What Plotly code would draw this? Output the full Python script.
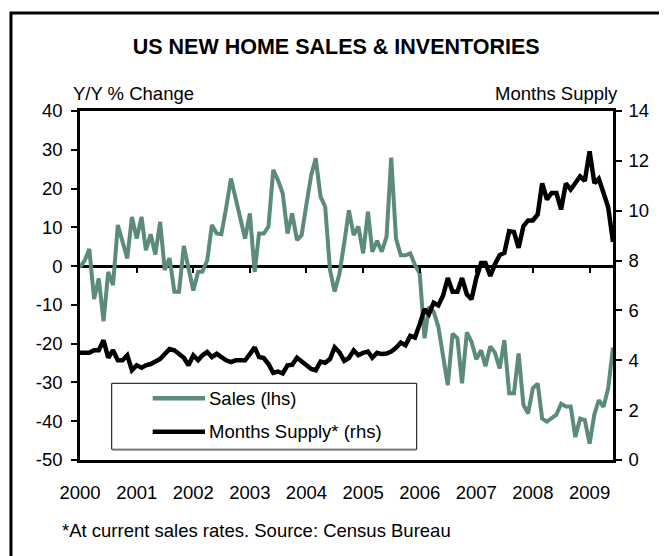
"""
US new home sales (y/y %) vs months supply, 2000-2009
"""
import plotly.graph_objects as go
import pandas as pd

GREEN = '#5d8b79'
BLACK = '#000000'
FONT = 'Arial, Liberation Sans, sans-serif'

# monthly, Jan 2000 - Jun 2009
months = pd.date_range('2000-01-01', periods=114, freq='MS')

sales_yoy = [
    -0.3, 1.5, 4.4, -8.5, -3.2, -14.2, -1.5, -4.9, 10.6, 6.0, 2.0, 12.7,
    7.1, 12.7, 4.1, 8.2, 3.0, 11.4, -1.0, 2.1, -6.6, -6.6, 5.2, -0.5,
    -6.3, -1.5, -1.4, 1.5, 10.6, 8.4, 8.2, 15.0, 22.6, 17.5, 12.0, 7.1,
    13.6, -1.5, 8.4, 8.4, 10.2, 24.8, 22.2, 18.8, 8.4, 13.6, 6.7, 8.0,
    16.0, 23.5, 27.8, 17.9, 15.3, -1.0, -6.6, -2.0, 6.0, 14.4, 8.0, 10.2,
    3.3, 14.0, 3.7, 6.5, 3.7, 7.6, 28.0, 7.1, 2.8, 2.8, 3.3, 0.3,
    -1.9, -18.6, -10.5, -11.8, -15.6, -23.0, -30.7, -17.4, -18.6, -30.2, -17.1, -19.5,
    -24.0, -21.7, -25.8, -20.7, -22.3, -26.4, -19.1, -32.8, -32.8, -22.5, -35.8, -38.0,
    -31.5, -30.3, -39.3, -40.1, -39.3, -38.3, -35.5, -36.2, -36.2, -44.1, -39.3, -39.7,
    -45.8, -38.2, -34.6, -36.3, -31.5, -21.0,
]

months_supply = [
    4.3, 4.3, 4.3, 4.4, 4.4, 4.8, 4.1, 4.4, 4.0, 4.0, 4.2, 3.6,
    3.8, 3.7, 3.8, 3.85, 3.95, 4.05, 4.25, 4.45, 4.4, 4.25, 4.1, 3.8,
    4.2, 4.0, 4.2, 4.33, 4.13, 4.26, 4.13, 4.0, 3.93, 4.0, 4.0, 4.0,
    4.25, 4.52, 4.13, 4.09, 3.85, 3.5, 3.55, 3.47, 3.8, 3.82, 4.1, 3.95,
    3.85, 3.65, 3.6, 3.95, 3.9, 4.05, 4.52, 4.32, 3.98, 4.09, 4.4, 4.2,
    4.3, 4.35, 4.1, 4.3, 4.25, 4.27, 4.35, 4.5, 4.71, 4.6, 4.98, 4.91,
    5.45, 6.05, 5.85, 6.31, 6.2, 6.6, 7.3, 6.75, 6.75, 7.3, 6.65, 6.45,
    7.3, 7.9, 7.9, 7.38, 7.85, 8.22, 8.31, 9.18, 9.15, 8.51, 9.38, 9.61,
    9.61, 9.85, 11.1, 10.45, 10.71, 10.71, 10.05, 11.1, 10.85, 11.1, 11.38, 11.2,
    12.38, 11.1, 11.28, 10.71, 10.14, 8.75,
]

year_ticks = pd.date_range('2000-01-01', '2009-01-01', freq='YS')
year_labels = [str(d.year) for d in year_ticks]

lhs_ticks = [-50, -40, -30, -20, -10, 0, 10, 20, 30, 40]
lhs_labels = [str(v) for v in lhs_ticks]  # plain hyphen, not unicode minus

fig = go.Figure()

fig.add_trace(go.Scatter(
    x=months, y=sales_yoy, mode='lines', name='Sales (lhs)',
    line=dict(color=GREEN, width=4), showlegend=False
))
fig.add_trace(go.Scatter(
    x=months, y=months_supply, mode='lines', name='Months Supply* (rhs)',
    yaxis='y2', line=dict(color=BLACK, width=4.5), showlegend=False
))
# carrier for the tick axis sitting on the zero line
fig.add_trace(go.Scatter(x=[], y=[], xaxis='x2', showlegend=False, hoverinfo='skip'))

axis_font = dict(family=FONT, size=18.5, color=BLACK)

# the page body adds an 8px margin, so the figure is 8px smaller than the window
fig.update_layout(
    width=659, height=548,
    margin=dict(l=72, r=54, t=103, b=96),
    paper_bgcolor='white', plot_bgcolor='white',
    font=axis_font,
    title=dict(
        text='<b>US NEW HOME SALES & INVENTORIES</b>',
        font=dict(family=FONT, size=21.5, color=BLACK),
        x=0.498, xanchor='center', y=0.929, yanchor='middle'
    ),
    xaxis=dict(
        type='date', range=[months[0], months[-1]],
        tickvals=year_ticks, ticktext=year_labels,
        ticks='', showgrid=False, zeroline=False,
        showline=True, mirror=True, linecolor=BLACK, linewidth=2.5,
        ticklabelstandoff=14, tickfont=axis_font
    ),
    xaxis2=dict(
        type='date', overlaying='x', matches='x', anchor='free',
        position=50 / 90, tickvals=year_ticks[1:],
        ticks='outside', ticklen=6, tickwidth=2, tickcolor=BLACK,
        showticklabels=False, showgrid=False, showline=False, zeroline=False
    ),
    yaxis=dict(
        range=[-50, 40], tickvals=lhs_ticks, ticktext=lhs_labels,
        ticks='outside', ticklen=6, tickwidth=2,
        tickcolor=BLACK, showgrid=False, showline=True, linecolor=BLACK,
        linewidth=2.5, zeroline=True, zerolinecolor=BLACK, zerolinewidth=2.5,
        ticklabelstandoff=5, tickfont=axis_font
    ),
    yaxis2=dict(
        range=[0, 14], dtick=2, overlaying='y', side='right',
        ticks='outside', ticklen=6, tickwidth=2, tickcolor=BLACK,
        showgrid=False, showline=True, linecolor=BLACK, linewidth=2.5,
        zeroline=False, ticklabelstandoff=3, tickfont=axis_font
    ),
    hovermode='closest',
)

# outer frame (runs off the right and bottom edges)
fig.add_shape(type='rect', xref='paper', yref='paper',
              x0=-0.1295, x1=1.3, y0=-0.6, y1=1.281,
              line=dict(color=BLACK, width=3), fillcolor='rgba(0,0,0,0)')

# legend box
fig.add_shape(type='rect', xref='paper', yref='paper',
              x0=0.0595, x1=0.6317, y0=0.0307, y1=0.2198,
              line=dict(color=BLACK, width=1), fillcolor='white')
fig.add_shape(type='line', xref='paper', yref='paper',
              x0=0.0605, x1=0.6317, y0=0.0285, y1=0.0285,
              line=dict(color='#8c8c8c', width=1.5))
legend_rows = [('Sales (lhs)', GREEN, 0.1768), ('Months Supply* (rhs)', BLACK, 0.0811)]
for label, color, yy in legend_rows:
    fig.add_shape(type='line', xref='paper', yref='paper',
                  x0=0.1364, x1=0.2345, y0=yy, y1=yy,
                  line=dict(color=color, width=4.5))
    fig.add_annotation(text=label, xref='paper', yref='paper', x=0.238, y=yy,
                       xanchor='left', yanchor='middle', showarrow=False,
                       font=axis_font)

# axis captions and footnote
fig.add_annotation(text='Y/Y % Change', xref='paper', yref='paper',
                   x=-0.016, y=1.049, xanchor='left', yanchor='middle',
                   showarrow=False, font=axis_font)
fig.add_annotation(text='Months Supply', xref='paper', yref='paper',
                   x=1.013, y=1.049, xanchor='right', yanchor='middle',
                   showarrow=False, font=axis_font)
fig.add_annotation(text='*At current sales rates. Source: Census Bureau',
                   xref='paper', yref='paper', x=-0.0375, y=-0.2006,
                   xanchor='left', yanchor='middle', showarrow=False,
                   font=axis_font)

fig.write_html('out.html')
